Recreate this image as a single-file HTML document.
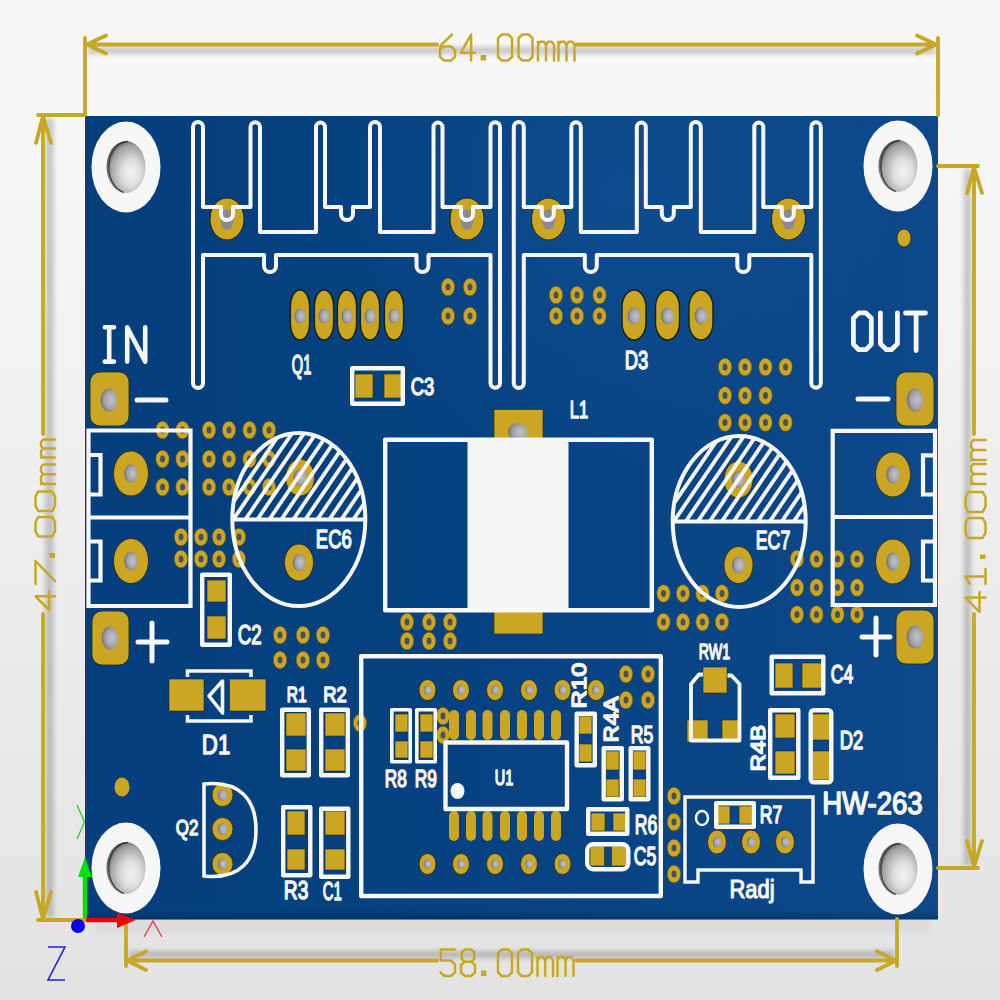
<!DOCTYPE html><html><head><meta charset="utf-8"><style>html,body{margin:0;padding:0;background:#f0f0f0;}svg{display:block}</style></head><body>
<svg width="1000" height="1000" viewBox="0 0 1000 1000">
<defs>
<linearGradient id="bg" x1="0" y1="0" x2="0" y2="1"><stop offset="0" stop-color="#f8f8f8"/><stop offset="0.12" stop-color="#f7f7f7"/><stop offset="1" stop-color="#e3e3e3"/></linearGradient>
<radialGradient id="hole" cx="0.62" cy="0.5" r="0.62"><stop offset="0" stop-color="#c4c4c8"/><stop offset="0.6" stop-color="#a4a4a8"/><stop offset="1" stop-color="#6e6e74"/></radialGradient>
<radialGradient id="mhole" cx="0.62" cy="0.6" r="0.7" fx="0.64" fy="0.62"><stop offset="0" stop-color="#f4f4f4"/><stop offset="0.35" stop-color="#dedede"/><stop offset="0.75" stop-color="#a0a0a0"/><stop offset="1" stop-color="#3a3a3a"/></radialGradient>
<linearGradient id="boardg" x1="0" y1="0" x2="1" y2="0"><stop offset="0" stop-color="#043e7c"/><stop offset="0.45" stop-color="#064281"/><stop offset="1" stop-color="#0d498a"/></linearGradient>
<radialGradient id="boardhl" gradientUnits="userSpaceOnUse" cx="620" cy="190" r="280"><stop offset="0" stop-color="#0f4d90" stop-opacity="0.9"/><stop offset="0.5" stop-color="#0f4d90" stop-opacity="0.45"/><stop offset="1" stop-color="#0f4d90" stop-opacity="0"/></radialGradient>
<linearGradient id="edgeb" x1="0" y1="0" x2="0" y2="1"><stop offset="0" stop-color="#000" stop-opacity="0"/><stop offset="1" stop-color="#000" stop-opacity="0.22"/></linearGradient>
<filter id="blur4" x="-20%" y="-20%" width="140%" height="140%"><feGaussianBlur stdDeviation="6"/></filter>
<filter id="blur2" x="-20%" y="-20%" width="140%" height="140%"><feGaussianBlur stdDeviation="2.8"/></filter>
<pattern id="hatch" patternUnits="userSpaceOnUse" width="15" height="19" patternTransform="rotate(0)">
</pattern>
</defs>
<rect x="0" y="0" width="1000" height="1000" fill="url(#bg)"/>
<rect x="95" y="905" width="835" height="28" fill="#000" opacity="0.035" filter="url(#blur2)"/>
<rect x="85" y="116" width="853" height="803.5" fill="url(#boardg)"/><rect x="85" y="116" width="853" height="803.5" fill="url(#boardhl)"/><rect x="85" y="910" width="853" height="9.5" fill="url(#edgeb)"/>
<ellipse cx="126" cy="167" rx="34.5" ry="45.5" fill="#f7f7f7"/>
<ellipse cx="126" cy="167" rx="19.5" ry="26" fill="url(#mhole)"/>
<path d="M 128 141.5 A 19.3 25.8 0 0 0 124 192.5" fill="none" stroke="#2e2e2e" stroke-width="1.3" opacity="0.85"/>
<ellipse cx="898" cy="166" rx="34.5" ry="45.5" fill="#f7f7f7"/>
<ellipse cx="898" cy="166" rx="19.5" ry="26" fill="url(#mhole)"/>
<path d="M 900 140.5 A 19.3 25.8 0 0 0 896 191.5" fill="none" stroke="#2e2e2e" stroke-width="1.3" opacity="0.85"/>
<ellipse cx="126" cy="868" rx="34.5" ry="45.5" fill="#f7f7f7"/>
<ellipse cx="126" cy="868" rx="19.5" ry="26" fill="url(#mhole)"/>
<path d="M 128 842.5 A 19.3 25.8 0 0 0 124 893.5" fill="none" stroke="#2e2e2e" stroke-width="1.3" opacity="0.85"/>
<ellipse cx="898" cy="869" rx="34.5" ry="45.5" fill="#f7f7f7"/>
<ellipse cx="898" cy="869" rx="19.5" ry="26" fill="url(#mhole)"/>
<path d="M 900 843.5 A 19.3 25.8 0 0 0 896 894.5" fill="none" stroke="#2e2e2e" stroke-width="1.3" opacity="0.85"/>
<ellipse cx="904" cy="238" rx="7" ry="9" fill="#caa622" stroke="#2a2a10" stroke-width="0.8"/>
<ellipse cx="122" cy="787" rx="7.5" ry="9.5" fill="#caa622"/>
<ellipse cx="162.5" cy="430" rx="6.7" ry="8.8" fill="#caa622" stroke="#6b5a14" stroke-width="0.6"/>
<ellipse cx="162.5" cy="430" rx="2.5" ry="3.5" fill="#4a4f5e"/>
<ellipse cx="182.5" cy="430" rx="6.7" ry="8.8" fill="#caa622" stroke="#6b5a14" stroke-width="0.6"/>
<ellipse cx="182.5" cy="430" rx="2.5" ry="3.5" fill="#4a4f5e"/>
<ellipse cx="209" cy="430" rx="6.7" ry="8.8" fill="#caa622" stroke="#6b5a14" stroke-width="0.6"/>
<ellipse cx="209" cy="430" rx="2.5" ry="3.5" fill="#4a4f5e"/>
<ellipse cx="229" cy="430" rx="6.7" ry="8.8" fill="#caa622" stroke="#6b5a14" stroke-width="0.6"/>
<ellipse cx="229" cy="430" rx="2.5" ry="3.5" fill="#4a4f5e"/>
<ellipse cx="249.5" cy="430" rx="6.7" ry="8.8" fill="#caa622" stroke="#6b5a14" stroke-width="0.6"/>
<ellipse cx="249.5" cy="430" rx="2.5" ry="3.5" fill="#4a4f5e"/>
<ellipse cx="269" cy="430" rx="6.7" ry="8.8" fill="#caa622" stroke="#6b5a14" stroke-width="0.6"/>
<ellipse cx="269" cy="430" rx="2.5" ry="3.5" fill="#4a4f5e"/>
<ellipse cx="162.5" cy="459" rx="6.7" ry="8.8" fill="#caa622" stroke="#6b5a14" stroke-width="0.6"/>
<ellipse cx="162.5" cy="459" rx="2.5" ry="3.5" fill="#4a4f5e"/>
<ellipse cx="182.5" cy="459" rx="6.7" ry="8.8" fill="#caa622" stroke="#6b5a14" stroke-width="0.6"/>
<ellipse cx="182.5" cy="459" rx="2.5" ry="3.5" fill="#4a4f5e"/>
<ellipse cx="209" cy="459" rx="6.7" ry="8.8" fill="#caa622" stroke="#6b5a14" stroke-width="0.6"/>
<ellipse cx="209" cy="459" rx="2.5" ry="3.5" fill="#4a4f5e"/>
<ellipse cx="229" cy="459" rx="6.7" ry="8.8" fill="#caa622" stroke="#6b5a14" stroke-width="0.6"/>
<ellipse cx="229" cy="459" rx="2.5" ry="3.5" fill="#4a4f5e"/>
<ellipse cx="249.5" cy="459" rx="6.7" ry="8.8" fill="#caa622" stroke="#6b5a14" stroke-width="0.6"/>
<ellipse cx="249.5" cy="459" rx="2.5" ry="3.5" fill="#4a4f5e"/>
<ellipse cx="269" cy="459" rx="6.7" ry="8.8" fill="#caa622" stroke="#6b5a14" stroke-width="0.6"/>
<ellipse cx="269" cy="459" rx="2.5" ry="3.5" fill="#4a4f5e"/>
<ellipse cx="162.5" cy="487" rx="6.7" ry="8.8" fill="#caa622" stroke="#6b5a14" stroke-width="0.6"/>
<ellipse cx="162.5" cy="487" rx="2.5" ry="3.5" fill="#4a4f5e"/>
<ellipse cx="182.5" cy="487" rx="6.7" ry="8.8" fill="#caa622" stroke="#6b5a14" stroke-width="0.6"/>
<ellipse cx="182.5" cy="487" rx="2.5" ry="3.5" fill="#4a4f5e"/>
<ellipse cx="209" cy="487" rx="6.7" ry="8.8" fill="#caa622" stroke="#6b5a14" stroke-width="0.6"/>
<ellipse cx="209" cy="487" rx="2.5" ry="3.5" fill="#4a4f5e"/>
<ellipse cx="229" cy="487" rx="6.7" ry="8.8" fill="#caa622" stroke="#6b5a14" stroke-width="0.6"/>
<ellipse cx="229" cy="487" rx="2.5" ry="3.5" fill="#4a4f5e"/>
<ellipse cx="249.5" cy="487" rx="6.7" ry="8.8" fill="#caa622" stroke="#6b5a14" stroke-width="0.6"/>
<ellipse cx="249.5" cy="487" rx="2.5" ry="3.5" fill="#4a4f5e"/>
<ellipse cx="269" cy="487" rx="6.7" ry="8.8" fill="#caa622" stroke="#6b5a14" stroke-width="0.6"/>
<ellipse cx="269" cy="487" rx="2.5" ry="3.5" fill="#4a4f5e"/>
<ellipse cx="181" cy="537" rx="6.7" ry="8.8" fill="#caa622" stroke="#6b5a14" stroke-width="0.6"/>
<ellipse cx="181" cy="537" rx="2.5" ry="3.5" fill="#4a4f5e"/>
<ellipse cx="201" cy="537" rx="6.7" ry="8.8" fill="#caa622" stroke="#6b5a14" stroke-width="0.6"/>
<ellipse cx="201" cy="537" rx="2.5" ry="3.5" fill="#4a4f5e"/>
<ellipse cx="219" cy="537" rx="6.7" ry="8.8" fill="#caa622" stroke="#6b5a14" stroke-width="0.6"/>
<ellipse cx="219" cy="537" rx="2.5" ry="3.5" fill="#4a4f5e"/>
<ellipse cx="239" cy="537" rx="6.7" ry="8.8" fill="#caa622" stroke="#6b5a14" stroke-width="0.6"/>
<ellipse cx="239" cy="537" rx="2.5" ry="3.5" fill="#4a4f5e"/>
<ellipse cx="181" cy="559" rx="6.7" ry="8.8" fill="#caa622" stroke="#6b5a14" stroke-width="0.6"/>
<ellipse cx="181" cy="559" rx="2.5" ry="3.5" fill="#4a4f5e"/>
<ellipse cx="201" cy="559" rx="6.7" ry="8.8" fill="#caa622" stroke="#6b5a14" stroke-width="0.6"/>
<ellipse cx="201" cy="559" rx="2.5" ry="3.5" fill="#4a4f5e"/>
<ellipse cx="219" cy="559" rx="6.7" ry="8.8" fill="#caa622" stroke="#6b5a14" stroke-width="0.6"/>
<ellipse cx="219" cy="559" rx="2.5" ry="3.5" fill="#4a4f5e"/>
<ellipse cx="239" cy="559" rx="6.7" ry="8.8" fill="#caa622" stroke="#6b5a14" stroke-width="0.6"/>
<ellipse cx="239" cy="559" rx="2.5" ry="3.5" fill="#4a4f5e"/>
<ellipse cx="280" cy="635" rx="6.7" ry="8.8" fill="#caa622" stroke="#6b5a14" stroke-width="0.6"/>
<ellipse cx="280" cy="635" rx="2.5" ry="3.5" fill="#4a4f5e"/>
<ellipse cx="303" cy="635" rx="6.7" ry="8.8" fill="#caa622" stroke="#6b5a14" stroke-width="0.6"/>
<ellipse cx="303" cy="635" rx="2.5" ry="3.5" fill="#4a4f5e"/>
<ellipse cx="323" cy="635" rx="6.7" ry="8.8" fill="#caa622" stroke="#6b5a14" stroke-width="0.6"/>
<ellipse cx="323" cy="635" rx="2.5" ry="3.5" fill="#4a4f5e"/>
<ellipse cx="280" cy="660" rx="6.7" ry="8.8" fill="#caa622" stroke="#6b5a14" stroke-width="0.6"/>
<ellipse cx="280" cy="660" rx="2.5" ry="3.5" fill="#4a4f5e"/>
<ellipse cx="303" cy="660" rx="6.7" ry="8.8" fill="#caa622" stroke="#6b5a14" stroke-width="0.6"/>
<ellipse cx="303" cy="660" rx="2.5" ry="3.5" fill="#4a4f5e"/>
<ellipse cx="323" cy="660" rx="6.7" ry="8.8" fill="#caa622" stroke="#6b5a14" stroke-width="0.6"/>
<ellipse cx="323" cy="660" rx="2.5" ry="3.5" fill="#4a4f5e"/>
<ellipse cx="448" cy="287" rx="6.7" ry="8.8" fill="#caa622" stroke="#6b5a14" stroke-width="0.6"/>
<ellipse cx="448" cy="287" rx="2.5" ry="3.5" fill="#4a4f5e"/>
<ellipse cx="470" cy="287" rx="6.7" ry="8.8" fill="#caa622" stroke="#6b5a14" stroke-width="0.6"/>
<ellipse cx="470" cy="287" rx="2.5" ry="3.5" fill="#4a4f5e"/>
<ellipse cx="448" cy="316" rx="6.7" ry="8.8" fill="#caa622" stroke="#6b5a14" stroke-width="0.6"/>
<ellipse cx="448" cy="316" rx="2.5" ry="3.5" fill="#4a4f5e"/>
<ellipse cx="470" cy="316" rx="6.7" ry="8.8" fill="#caa622" stroke="#6b5a14" stroke-width="0.6"/>
<ellipse cx="470" cy="316" rx="2.5" ry="3.5" fill="#4a4f5e"/>
<ellipse cx="556" cy="295" rx="6.7" ry="8.8" fill="#caa622" stroke="#6b5a14" stroke-width="0.6"/>
<ellipse cx="556" cy="295" rx="2.5" ry="3.5" fill="#4a4f5e"/>
<ellipse cx="577" cy="295" rx="6.7" ry="8.8" fill="#caa622" stroke="#6b5a14" stroke-width="0.6"/>
<ellipse cx="577" cy="295" rx="2.5" ry="3.5" fill="#4a4f5e"/>
<ellipse cx="599.5" cy="295" rx="6.7" ry="8.8" fill="#caa622" stroke="#6b5a14" stroke-width="0.6"/>
<ellipse cx="599.5" cy="295" rx="2.5" ry="3.5" fill="#4a4f5e"/>
<ellipse cx="556" cy="316" rx="6.7" ry="8.8" fill="#caa622" stroke="#6b5a14" stroke-width="0.6"/>
<ellipse cx="556" cy="316" rx="2.5" ry="3.5" fill="#4a4f5e"/>
<ellipse cx="577" cy="316" rx="6.7" ry="8.8" fill="#caa622" stroke="#6b5a14" stroke-width="0.6"/>
<ellipse cx="577" cy="316" rx="2.5" ry="3.5" fill="#4a4f5e"/>
<ellipse cx="599.5" cy="316" rx="6.7" ry="8.8" fill="#caa622" stroke="#6b5a14" stroke-width="0.6"/>
<ellipse cx="599.5" cy="316" rx="2.5" ry="3.5" fill="#4a4f5e"/>
<ellipse cx="407" cy="622" rx="6.7" ry="8.8" fill="#caa622" stroke="#6b5a14" stroke-width="0.6"/>
<ellipse cx="407" cy="622" rx="2.5" ry="3.5" fill="#4a4f5e"/>
<ellipse cx="429" cy="622" rx="6.7" ry="8.8" fill="#caa622" stroke="#6b5a14" stroke-width="0.6"/>
<ellipse cx="429" cy="622" rx="2.5" ry="3.5" fill="#4a4f5e"/>
<ellipse cx="450" cy="622" rx="6.7" ry="8.8" fill="#caa622" stroke="#6b5a14" stroke-width="0.6"/>
<ellipse cx="450" cy="622" rx="2.5" ry="3.5" fill="#4a4f5e"/>
<ellipse cx="407" cy="641" rx="6.7" ry="8.8" fill="#caa622" stroke="#6b5a14" stroke-width="0.6"/>
<ellipse cx="407" cy="641" rx="2.5" ry="3.5" fill="#4a4f5e"/>
<ellipse cx="429" cy="641" rx="6.7" ry="8.8" fill="#caa622" stroke="#6b5a14" stroke-width="0.6"/>
<ellipse cx="429" cy="641" rx="2.5" ry="3.5" fill="#4a4f5e"/>
<ellipse cx="450" cy="641" rx="6.7" ry="8.8" fill="#caa622" stroke="#6b5a14" stroke-width="0.6"/>
<ellipse cx="450" cy="641" rx="2.5" ry="3.5" fill="#4a4f5e"/>
<ellipse cx="725" cy="367" rx="6.7" ry="8.8" fill="#caa622" stroke="#6b5a14" stroke-width="0.6"/>
<ellipse cx="725" cy="367" rx="2.5" ry="3.5" fill="#4a4f5e"/>
<ellipse cx="725" cy="422.5" rx="6.7" ry="8.8" fill="#caa622" stroke="#6b5a14" stroke-width="0.6"/>
<ellipse cx="725" cy="422.5" rx="2.5" ry="3.5" fill="#4a4f5e"/>
<ellipse cx="745" cy="367" rx="6.7" ry="8.8" fill="#caa622" stroke="#6b5a14" stroke-width="0.6"/>
<ellipse cx="745" cy="367" rx="2.5" ry="3.5" fill="#4a4f5e"/>
<ellipse cx="745" cy="422.5" rx="6.7" ry="8.8" fill="#caa622" stroke="#6b5a14" stroke-width="0.6"/>
<ellipse cx="745" cy="422.5" rx="2.5" ry="3.5" fill="#4a4f5e"/>
<ellipse cx="765.5" cy="367" rx="6.7" ry="8.8" fill="#caa622" stroke="#6b5a14" stroke-width="0.6"/>
<ellipse cx="765.5" cy="367" rx="2.5" ry="3.5" fill="#4a4f5e"/>
<ellipse cx="765.5" cy="422.5" rx="6.7" ry="8.8" fill="#caa622" stroke="#6b5a14" stroke-width="0.6"/>
<ellipse cx="765.5" cy="422.5" rx="2.5" ry="3.5" fill="#4a4f5e"/>
<ellipse cx="785.6" cy="367" rx="6.7" ry="8.8" fill="#caa622" stroke="#6b5a14" stroke-width="0.6"/>
<ellipse cx="785.6" cy="367" rx="2.5" ry="3.5" fill="#4a4f5e"/>
<ellipse cx="785.6" cy="422.5" rx="6.7" ry="8.8" fill="#caa622" stroke="#6b5a14" stroke-width="0.6"/>
<ellipse cx="785.6" cy="422.5" rx="2.5" ry="3.5" fill="#4a4f5e"/>
<ellipse cx="725" cy="395.5" rx="6.7" ry="8.8" fill="#caa622" stroke="#6b5a14" stroke-width="0.6"/>
<ellipse cx="725" cy="395.5" rx="2.5" ry="3.5" fill="#4a4f5e"/>
<ellipse cx="745" cy="395.5" rx="6.7" ry="8.8" fill="#caa622" stroke="#6b5a14" stroke-width="0.6"/>
<ellipse cx="745" cy="395.5" rx="2.5" ry="3.5" fill="#4a4f5e"/>
<ellipse cx="765.5" cy="395.5" rx="6.7" ry="8.8" fill="#caa622" stroke="#6b5a14" stroke-width="0.6"/>
<ellipse cx="765.5" cy="395.5" rx="2.5" ry="3.5" fill="#4a4f5e"/>
<ellipse cx="663.5" cy="593.5" rx="6.7" ry="8.8" fill="#caa622" stroke="#6b5a14" stroke-width="0.6"/>
<ellipse cx="663.5" cy="593.5" rx="2.5" ry="3.5" fill="#4a4f5e"/>
<ellipse cx="683" cy="593.5" rx="6.7" ry="8.8" fill="#caa622" stroke="#6b5a14" stroke-width="0.6"/>
<ellipse cx="683" cy="593.5" rx="2.5" ry="3.5" fill="#4a4f5e"/>
<ellipse cx="702.5" cy="593.5" rx="6.7" ry="8.8" fill="#caa622" stroke="#6b5a14" stroke-width="0.6"/>
<ellipse cx="702.5" cy="593.5" rx="2.5" ry="3.5" fill="#4a4f5e"/>
<ellipse cx="722" cy="593.5" rx="6.7" ry="8.8" fill="#caa622" stroke="#6b5a14" stroke-width="0.6"/>
<ellipse cx="722" cy="593.5" rx="2.5" ry="3.5" fill="#4a4f5e"/>
<ellipse cx="663.5" cy="622" rx="6.7" ry="8.8" fill="#caa622" stroke="#6b5a14" stroke-width="0.6"/>
<ellipse cx="663.5" cy="622" rx="2.5" ry="3.5" fill="#4a4f5e"/>
<ellipse cx="683" cy="622" rx="6.7" ry="8.8" fill="#caa622" stroke="#6b5a14" stroke-width="0.6"/>
<ellipse cx="683" cy="622" rx="2.5" ry="3.5" fill="#4a4f5e"/>
<ellipse cx="702.5" cy="622" rx="6.7" ry="8.8" fill="#caa622" stroke="#6b5a14" stroke-width="0.6"/>
<ellipse cx="702.5" cy="622" rx="2.5" ry="3.5" fill="#4a4f5e"/>
<ellipse cx="722" cy="622" rx="6.7" ry="8.8" fill="#caa622" stroke="#6b5a14" stroke-width="0.6"/>
<ellipse cx="722" cy="622" rx="2.5" ry="3.5" fill="#4a4f5e"/>
<ellipse cx="797" cy="559" rx="6.7" ry="8.8" fill="#caa622" stroke="#6b5a14" stroke-width="0.6"/>
<ellipse cx="797" cy="559" rx="2.5" ry="3.5" fill="#4a4f5e"/>
<ellipse cx="816.5" cy="559" rx="6.7" ry="8.8" fill="#caa622" stroke="#6b5a14" stroke-width="0.6"/>
<ellipse cx="816.5" cy="559" rx="2.5" ry="3.5" fill="#4a4f5e"/>
<ellipse cx="837.5" cy="559" rx="6.7" ry="8.8" fill="#caa622" stroke="#6b5a14" stroke-width="0.6"/>
<ellipse cx="837.5" cy="559" rx="2.5" ry="3.5" fill="#4a4f5e"/>
<ellipse cx="857" cy="559" rx="6.7" ry="8.8" fill="#caa622" stroke="#6b5a14" stroke-width="0.6"/>
<ellipse cx="857" cy="559" rx="2.5" ry="3.5" fill="#4a4f5e"/>
<ellipse cx="797" cy="587.5" rx="6.7" ry="8.8" fill="#caa622" stroke="#6b5a14" stroke-width="0.6"/>
<ellipse cx="797" cy="587.5" rx="2.5" ry="3.5" fill="#4a4f5e"/>
<ellipse cx="816.5" cy="587.5" rx="6.7" ry="8.8" fill="#caa622" stroke="#6b5a14" stroke-width="0.6"/>
<ellipse cx="816.5" cy="587.5" rx="2.5" ry="3.5" fill="#4a4f5e"/>
<ellipse cx="837.5" cy="587.5" rx="6.7" ry="8.8" fill="#caa622" stroke="#6b5a14" stroke-width="0.6"/>
<ellipse cx="837.5" cy="587.5" rx="2.5" ry="3.5" fill="#4a4f5e"/>
<ellipse cx="857" cy="587.5" rx="6.7" ry="8.8" fill="#caa622" stroke="#6b5a14" stroke-width="0.6"/>
<ellipse cx="857" cy="587.5" rx="2.5" ry="3.5" fill="#4a4f5e"/>
<ellipse cx="797" cy="614.5" rx="6.7" ry="8.8" fill="#caa622" stroke="#6b5a14" stroke-width="0.6"/>
<ellipse cx="797" cy="614.5" rx="2.5" ry="3.5" fill="#4a4f5e"/>
<ellipse cx="816.5" cy="614.5" rx="6.7" ry="8.8" fill="#caa622" stroke="#6b5a14" stroke-width="0.6"/>
<ellipse cx="816.5" cy="614.5" rx="2.5" ry="3.5" fill="#4a4f5e"/>
<ellipse cx="837.5" cy="614.5" rx="6.7" ry="8.8" fill="#caa622" stroke="#6b5a14" stroke-width="0.6"/>
<ellipse cx="837.5" cy="614.5" rx="2.5" ry="3.5" fill="#4a4f5e"/>
<ellipse cx="857" cy="614.5" rx="6.7" ry="8.8" fill="#caa622" stroke="#6b5a14" stroke-width="0.6"/>
<ellipse cx="857" cy="614.5" rx="2.5" ry="3.5" fill="#4a4f5e"/>
<ellipse cx="626" cy="674" rx="6.7" ry="8.8" fill="#caa622" stroke="#6b5a14" stroke-width="0.6"/>
<ellipse cx="626" cy="674" rx="2.5" ry="3.5" fill="#4a4f5e"/>
<ellipse cx="648" cy="674" rx="6.7" ry="8.8" fill="#caa622" stroke="#6b5a14" stroke-width="0.6"/>
<ellipse cx="648" cy="674" rx="2.5" ry="3.5" fill="#4a4f5e"/>
<ellipse cx="626" cy="700" rx="6.7" ry="8.8" fill="#caa622" stroke="#6b5a14" stroke-width="0.6"/>
<ellipse cx="626" cy="700" rx="2.5" ry="3.5" fill="#4a4f5e"/>
<ellipse cx="648" cy="700" rx="6.7" ry="8.8" fill="#caa622" stroke="#6b5a14" stroke-width="0.6"/>
<ellipse cx="648" cy="700" rx="2.5" ry="3.5" fill="#4a4f5e"/>
<ellipse cx="674" cy="796" rx="6.7" ry="8.8" fill="#caa622" stroke="#6b5a14" stroke-width="0.6"/>
<ellipse cx="674" cy="796" rx="2.5" ry="3.5" fill="#4a4f5e"/>
<ellipse cx="674" cy="822" rx="6.7" ry="8.8" fill="#caa622" stroke="#6b5a14" stroke-width="0.6"/>
<ellipse cx="674" cy="822" rx="2.5" ry="3.5" fill="#4a4f5e"/>
<ellipse cx="674" cy="848" rx="6.7" ry="8.8" fill="#caa622" stroke="#6b5a14" stroke-width="0.6"/>
<ellipse cx="674" cy="848" rx="2.5" ry="3.5" fill="#4a4f5e"/>
<ellipse cx="674" cy="874" rx="6.7" ry="8.8" fill="#caa622" stroke="#6b5a14" stroke-width="0.6"/>
<ellipse cx="674" cy="874" rx="2.5" ry="3.5" fill="#4a4f5e"/>
<ellipse cx="360" cy="723" rx="6.7" ry="8.8" fill="#caa622" stroke="#6b5a14" stroke-width="0.6"/>
<ellipse cx="360" cy="723" rx="2.5" ry="3.5" fill="#4a4f5e"/>
<ellipse cx="443" cy="716" rx="6.7" ry="8.8" fill="#caa622" stroke="#6b5a14" stroke-width="0.6"/>
<ellipse cx="443" cy="716" rx="2.5" ry="3.5" fill="#4a4f5e"/>
<ellipse cx="443" cy="735" rx="6.7" ry="8.8" fill="#caa622" stroke="#6b5a14" stroke-width="0.6"/>
<ellipse cx="443" cy="735" rx="2.5" ry="3.5" fill="#4a4f5e"/>
<ellipse cx="227" cy="219" rx="17" ry="21" fill="#caa622" stroke="#1e2a20" stroke-width="1"/>
<ellipse cx="227" cy="219.5" rx="6.5" ry="10.5" fill="#8a8a90"/>
<ellipse cx="467" cy="219" rx="17" ry="21" fill="#caa622" stroke="#1e2a20" stroke-width="1"/>
<ellipse cx="467" cy="219.5" rx="6.5" ry="10.5" fill="#8a8a90"/>
<ellipse cx="548.5" cy="219" rx="17" ry="21" fill="#caa622" stroke="#1e2a20" stroke-width="1"/>
<ellipse cx="548.5" cy="219.5" rx="6.5" ry="10.5" fill="#8a8a90"/>
<ellipse cx="788.5" cy="219" rx="17" ry="21" fill="#caa622" stroke="#1e2a20" stroke-width="1"/>
<ellipse cx="788.5" cy="219.5" rx="6.5" ry="10.5" fill="#8a8a90"/>
<rect x="290.4" y="290" width="19.2" height="50" rx="9.6" ry="16" fill="#caa622" stroke="#18201a" stroke-width="1.4"/>
<ellipse cx="300" cy="316" rx="5.5" ry="7.5" fill="url(#hole)"/>
<rect x="314.4" y="290" width="19.2" height="50" rx="9.6" ry="16" fill="#caa622" stroke="#18201a" stroke-width="1.4"/>
<ellipse cx="324" cy="316" rx="5.5" ry="7.5" fill="url(#hole)"/>
<rect x="337.4" y="290" width="19.2" height="50" rx="9.6" ry="16" fill="#caa622" stroke="#18201a" stroke-width="1.4"/>
<ellipse cx="347" cy="316" rx="5.5" ry="7.5" fill="url(#hole)"/>
<rect x="360.4" y="290" width="19.2" height="50" rx="9.6" ry="16" fill="#caa622" stroke="#18201a" stroke-width="1.4"/>
<ellipse cx="370" cy="316" rx="5.5" ry="7.5" fill="url(#hole)"/>
<rect x="384.4" y="290" width="19.2" height="50" rx="9.6" ry="16" fill="#caa622" stroke="#18201a" stroke-width="1.4"/>
<ellipse cx="394" cy="316" rx="5.5" ry="7.5" fill="url(#hole)"/>
<rect x="622" y="290" width="24" height="50" rx="12" ry="17" fill="#caa622" stroke="#18201a" stroke-width="1.4"/>
<ellipse cx="634" cy="316" rx="6.5" ry="8.5" fill="url(#hole)"/>
<rect x="655.5" y="290" width="24" height="50" rx="12" ry="17" fill="#caa622" stroke="#18201a" stroke-width="1.4"/>
<ellipse cx="667.5" cy="316" rx="6.5" ry="8.5" fill="url(#hole)"/>
<rect x="689" y="290" width="24" height="50" rx="12" ry="17" fill="#caa622" stroke="#18201a" stroke-width="1.4"/>
<ellipse cx="701" cy="316" rx="6.5" ry="8.5" fill="url(#hole)"/>
<rect x="90" y="372" width="39.0" height="54.0" rx="10" fill="#caa622" stroke="#1e2a20" stroke-width="0.8"/>
<ellipse cx="109" cy="400" rx="8.5" ry="11.5" fill="url(#hole)"/>
<rect x="92" y="611" width="37.0" height="54.0" rx="10" fill="#caa622" stroke="#1e2a20" stroke-width="0.8"/>
<ellipse cx="110" cy="638" rx="8.5" ry="11.5" fill="url(#hole)"/>
<rect x="896" y="372" width="38.0" height="54.0" rx="10" fill="#caa622" stroke="#1e2a20" stroke-width="0.8"/>
<ellipse cx="915" cy="400" rx="8.5" ry="11.5" fill="url(#hole)"/>
<rect x="896" y="610" width="38.0" height="54.0" rx="10" fill="#caa622" stroke="#1e2a20" stroke-width="0.8"/>
<ellipse cx="915" cy="637" rx="8.5" ry="11.5" fill="url(#hole)"/>
<ellipse cx="131" cy="473.5" rx="17.5" ry="22.5" fill="#caa622" stroke="#2a2a10" stroke-width="0.8"/>
<ellipse cx="131" cy="473.5" rx="6.8" ry="9.2" fill="url(#hole)"/>
<ellipse cx="131" cy="561" rx="17.5" ry="22.5" fill="#caa622" stroke="#2a2a10" stroke-width="0.8"/>
<ellipse cx="131" cy="561" rx="6.8" ry="9.2" fill="url(#hole)"/>
<ellipse cx="893" cy="474.5" rx="17.5" ry="22.5" fill="#caa622" stroke="#2a2a10" stroke-width="0.8"/>
<ellipse cx="893" cy="474.5" rx="6.8" ry="9.2" fill="url(#hole)"/>
<ellipse cx="893" cy="561.5" rx="17.5" ry="22.5" fill="#caa622" stroke="#2a2a10" stroke-width="0.8"/>
<ellipse cx="893" cy="561.5" rx="6.8" ry="9.2" fill="url(#hole)"/>
<ellipse cx="300" cy="477.5" rx="14.5" ry="18.5" fill="#caa622" stroke="#2a2a10" stroke-width="0.8"/>
<ellipse cx="300" cy="477.5" rx="6.5" ry="8.5" fill="url(#hole)"/>
<ellipse cx="299" cy="562.5" rx="14.5" ry="18.5" fill="#caa622" stroke="#2a2a10" stroke-width="0.8"/>
<ellipse cx="299" cy="562.5" rx="6.5" ry="8.5" fill="url(#hole)"/>
<ellipse cx="738.5" cy="479.5" rx="14.5" ry="18.5" fill="#caa622" stroke="#2a2a10" stroke-width="0.8"/>
<ellipse cx="738.5" cy="479.5" rx="6.5" ry="8.5" fill="url(#hole)"/>
<ellipse cx="738.5" cy="565" rx="14.5" ry="18.5" fill="#caa622" stroke="#2a2a10" stroke-width="0.8"/>
<ellipse cx="738.5" cy="565" rx="6.5" ry="8.5" fill="url(#hole)"/>
<ellipse cx="427.5" cy="690" rx="8.5" ry="10.5" fill="#caa622" stroke="#2a2a10" stroke-width="0.8"/>
<ellipse cx="427.5" cy="690" rx="3.8" ry="4.8" fill="url(#hole)"/>
<ellipse cx="461" cy="690" rx="8.5" ry="10.5" fill="#caa622" stroke="#2a2a10" stroke-width="0.8"/>
<ellipse cx="461" cy="690" rx="3.8" ry="4.8" fill="url(#hole)"/>
<ellipse cx="495" cy="690" rx="8.5" ry="10.5" fill="#caa622" stroke="#2a2a10" stroke-width="0.8"/>
<ellipse cx="495" cy="690" rx="3.8" ry="4.8" fill="url(#hole)"/>
<ellipse cx="529" cy="690" rx="8.5" ry="10.5" fill="#caa622" stroke="#2a2a10" stroke-width="0.8"/>
<ellipse cx="529" cy="690" rx="3.8" ry="4.8" fill="url(#hole)"/>
<ellipse cx="562.5" cy="690" rx="8.5" ry="10.5" fill="#caa622" stroke="#2a2a10" stroke-width="0.8"/>
<ellipse cx="562.5" cy="690" rx="3.8" ry="4.8" fill="url(#hole)"/>
<ellipse cx="596" cy="690" rx="8.5" ry="10.5" fill="#caa622" stroke="#2a2a10" stroke-width="0.8"/>
<ellipse cx="596" cy="690" rx="3.8" ry="4.8" fill="url(#hole)"/>
<ellipse cx="427.5" cy="864" rx="8.5" ry="10.5" fill="#caa622" stroke="#2a2a10" stroke-width="0.8"/>
<ellipse cx="427.5" cy="864" rx="3.8" ry="4.8" fill="url(#hole)"/>
<ellipse cx="461" cy="864" rx="8.5" ry="10.5" fill="#caa622" stroke="#2a2a10" stroke-width="0.8"/>
<ellipse cx="461" cy="864" rx="3.8" ry="4.8" fill="url(#hole)"/>
<ellipse cx="495" cy="864" rx="8.5" ry="10.5" fill="#caa622" stroke="#2a2a10" stroke-width="0.8"/>
<ellipse cx="495" cy="864" rx="3.8" ry="4.8" fill="url(#hole)"/>
<ellipse cx="529" cy="864" rx="8.5" ry="10.5" fill="#caa622" stroke="#2a2a10" stroke-width="0.8"/>
<ellipse cx="529" cy="864" rx="3.8" ry="4.8" fill="url(#hole)"/>
<ellipse cx="562.5" cy="864" rx="8.5" ry="10.5" fill="#caa622" stroke="#2a2a10" stroke-width="0.8"/>
<ellipse cx="562.5" cy="864" rx="3.8" ry="4.8" fill="url(#hole)"/>
<ellipse cx="222.5" cy="795" rx="10.5" ry="11.5" fill="#caa622" stroke="#2a2a10" stroke-width="0.8"/>
<ellipse cx="222.5" cy="795" rx="4.8" ry="5.8" fill="url(#hole)"/>
<ellipse cx="222.5" cy="829" rx="10.5" ry="11.5" fill="#caa622" stroke="#2a2a10" stroke-width="0.8"/>
<ellipse cx="222.5" cy="829" rx="4.8" ry="5.8" fill="url(#hole)"/>
<ellipse cx="222.5" cy="864" rx="10.5" ry="11.5" fill="#caa622" stroke="#2a2a10" stroke-width="0.8"/>
<ellipse cx="222.5" cy="864" rx="4.8" ry="5.8" fill="url(#hole)"/>
<ellipse cx="717" cy="842" rx="9.5" ry="12" fill="#caa622" stroke="#2a2a10" stroke-width="0.8"/>
<ellipse cx="717" cy="842" rx="4.2" ry="5.2" fill="url(#hole)"/>
<ellipse cx="751" cy="842" rx="9.5" ry="12" fill="#caa622" stroke="#2a2a10" stroke-width="0.8"/>
<ellipse cx="751" cy="842" rx="4.2" ry="5.2" fill="url(#hole)"/>
<ellipse cx="785" cy="842" rx="9.5" ry="12" fill="#caa622" stroke="#2a2a10" stroke-width="0.8"/>
<ellipse cx="785" cy="842" rx="4.2" ry="5.2" fill="url(#hole)"/>
<rect x="449" y="710" width="10.0" height="30.0" rx="5" fill="#caa622" />
<rect x="449" y="811" width="10.0" height="30.0" rx="5" fill="#caa622" />
<rect x="466" y="710" width="10.0" height="30.0" rx="5" fill="#caa622" />
<rect x="466" y="811" width="10.0" height="30.0" rx="5" fill="#caa622" />
<rect x="482.5" y="710" width="10.0" height="30.0" rx="5" fill="#caa622" />
<rect x="482.5" y="811" width="10.0" height="30.0" rx="5" fill="#caa622" />
<rect x="500" y="710" width="10.0" height="30.0" rx="5" fill="#caa622" />
<rect x="500" y="811" width="10.0" height="30.0" rx="5" fill="#caa622" />
<rect x="517" y="710" width="10.0" height="30.0" rx="5" fill="#caa622" />
<rect x="517" y="811" width="10.0" height="30.0" rx="5" fill="#caa622" />
<rect x="534" y="710" width="10.0" height="30.0" rx="5" fill="#caa622" />
<rect x="534" y="811" width="10.0" height="30.0" rx="5" fill="#caa622" />
<rect x="551" y="710" width="10.0" height="30.0" rx="5" fill="#caa622" />
<rect x="551" y="811" width="10.0" height="30.0" rx="5" fill="#caa622" />
<rect x="355" y="374" width="18.0" height="24.0" rx="0" fill="#caa622" stroke="#1e2a20" stroke-width="0.6"/>
<rect x="384" y="374" width="18.0" height="24.0" rx="0" fill="#caa622" stroke="#1e2a20" stroke-width="0.6"/>
<rect x="207" y="580" width="19.0" height="22.0" rx="0" fill="#caa622" stroke="#1e2a20" stroke-width="0.6"/>
<rect x="207" y="616" width="19.0" height="23.0" rx="0" fill="#caa622" stroke="#1e2a20" stroke-width="0.6"/>
<rect x="169" y="679" width="35.0" height="32.0" rx="0" fill="#caa622" stroke="#1e2a20" stroke-width="0.6"/>
<rect x="229.5" y="679" width="36.5" height="32.0" rx="0" fill="#caa622" stroke="#1e2a20" stroke-width="0.6"/>
<rect x="286" y="713" width="20.0" height="23.0" rx="0" fill="#caa622" stroke="#1e2a20" stroke-width="0.6"/>
<rect x="286" y="749" width="20.0" height="22.0" rx="0" fill="#caa622" stroke="#1e2a20" stroke-width="0.6"/>
<rect x="325" y="713" width="20.0" height="23.0" rx="0" fill="#caa622" stroke="#1e2a20" stroke-width="0.6"/>
<rect x="325" y="749" width="20.0" height="22.0" rx="0" fill="#caa622" stroke="#1e2a20" stroke-width="0.6"/>
<rect x="287" y="811" width="18.0" height="24.0" rx="0" fill="#caa622" stroke="#1e2a20" stroke-width="0.6"/>
<rect x="287" y="849" width="18.0" height="21.0" rx="0" fill="#caa622" stroke="#1e2a20" stroke-width="0.6"/>
<rect x="325" y="811" width="20.0" height="24.0" rx="0" fill="#caa622" stroke="#1e2a20" stroke-width="0.6"/>
<rect x="325" y="849" width="20.0" height="21.0" rx="0" fill="#caa622" stroke="#1e2a20" stroke-width="0.6"/>
<rect x="395" y="714" width="13.0" height="18.0" rx="0" fill="#caa622" stroke="#1e2a20" stroke-width="0.6"/>
<rect x="395" y="741" width="13.0" height="17.0" rx="0" fill="#caa622" stroke="#1e2a20" stroke-width="0.6"/>
<rect x="420" y="714" width="13.0" height="18.0" rx="0" fill="#caa622" stroke="#1e2a20" stroke-width="0.6"/>
<rect x="420" y="741" width="13.0" height="17.0" rx="0" fill="#caa622" stroke="#1e2a20" stroke-width="0.6"/>
<rect x="579" y="716" width="13.0" height="18.0" rx="0" fill="#caa622" stroke="#1e2a20" stroke-width="0.6"/>
<rect x="579" y="744" width="13.0" height="18.0" rx="0" fill="#caa622" stroke="#1e2a20" stroke-width="0.6"/>
<rect x="606" y="751" width="13.0" height="19.0" rx="0" fill="#caa622" stroke="#1e2a20" stroke-width="0.6"/>
<rect x="606" y="779" width="13.0" height="18.0" rx="0" fill="#caa622" stroke="#1e2a20" stroke-width="0.6"/>
<rect x="633" y="751" width="13.0" height="19.0" rx="0" fill="#caa622" stroke="#1e2a20" stroke-width="0.6"/>
<rect x="633" y="779" width="13.0" height="18.0" rx="0" fill="#caa622" stroke="#1e2a20" stroke-width="0.6"/>
<rect x="591" y="813" width="14.0" height="18.0" rx="0" fill="#caa622" stroke="#1e2a20" stroke-width="0.6"/>
<rect x="613" y="813" width="14.0" height="18.0" rx="0" fill="#caa622" stroke="#1e2a20" stroke-width="0.6"/>
<rect x="590" y="846" width="14.5" height="20.0" rx="0" fill="#caa622" stroke="#1e2a20" stroke-width="0.6"/>
<rect x="611.5" y="846" width="16.0" height="20.0" rx="0" fill="#caa622" stroke="#1e2a20" stroke-width="0.6"/>
<rect x="703" y="667" width="24.0" height="26.0" rx="0" fill="#caa622" stroke="#1e2a20" stroke-width="0.6"/>
<rect x="687" y="720" width="21.0" height="22.0" rx="0" fill="#caa622" stroke="#1e2a20" stroke-width="0.6"/>
<rect x="722" y="720" width="19.0" height="22.0" rx="0" fill="#caa622" stroke="#1e2a20" stroke-width="0.6"/>
<rect x="775" y="663" width="18.0" height="25.0" rx="0" fill="#caa622" stroke="#1e2a20" stroke-width="0.6"/>
<rect x="802" y="663" width="20.0" height="25.0" rx="0" fill="#caa622" stroke="#1e2a20" stroke-width="0.6"/>
<rect x="775" y="714" width="20.0" height="24.0" rx="0" fill="#caa622" stroke="#1e2a20" stroke-width="0.6"/>
<rect x="775" y="751" width="20.0" height="23.0" rx="0" fill="#caa622" stroke="#1e2a20" stroke-width="0.6"/>
<rect x="812" y="714" width="19.0" height="26.0" rx="0" fill="#caa622" stroke="#1e2a20" stroke-width="0.6"/>
<rect x="812" y="751" width="19.0" height="29.0" rx="0" fill="#caa622" stroke="#1e2a20" stroke-width="0.6"/>
<rect x="717" y="806" width="13.0" height="18.0" rx="0" fill="#caa622" stroke="#1e2a20" stroke-width="0.6"/>
<rect x="739" y="806" width="13.0" height="18.0" rx="0" fill="#caa622" stroke="#1e2a20" stroke-width="0.6"/>
<rect x="494" y="409.5" width="49.0" height="30.5" rx="0" fill="#caa622" stroke="#1e2a20" stroke-width="0.6"/>
<rect x="494" y="610" width="49.0" height="24.0" rx="0" fill="#caa622" stroke="#1e2a20" stroke-width="0.6"/>
<ellipse cx="518" cy="432" rx="10" ry="9" fill="url(#hole)"/>
<path d="M 203.0 383 L 203.0 255 L 264.0 255 L 264.0 266 A 6 6 0 0 0 276.0 266 L 276.0 255 L 416.5 255 L 416.5 266 A 6 6 0 0 0 428.5 266 L 428.5 255 L 490.5 255 L 490.5 383 A 4.75 4.75 0 0 0 500.0 383 L 500.0 127 A 4.75 4.75 0 0 0 490.5 127 L 490.5 207 L 473.0 207 L 473.0 214 A 6 6 0 0 1 461.0 214 L 461.0 207 L 442.5 207 L 442.5 127 A 4.5 4.5 0 0 0 433.5 127 L 433.5 232 L 380.0 232 L 380.0 127 A 5 5 0 0 0 370.0 127 L 370.0 207 L 353.0 207 L 353.0 214 A 6 6 0 0 1 341.0 214 L 341.0 207 L 325.0 207 L 325.0 127 A 4.5 4.5 0 0 0 316.0 127 L 316.0 232 L 260.0 232 L 260.0 127 A 4.75 4.75 0 0 0 250.5 127 L 250.5 207 L 233.0 207 L 233.0 214 A 6 6 0 0 1 221.0 214 L 221.0 207 L 203.0 207 L 203.0 127 A 5 5 0 0 0 193.0 127 L 193.0 383 A 5 5 0 0 0 203.0 383 Z" fill="none" stroke="#f7f7f7" stroke-width="4" stroke-linejoin="round"/>
<path d="M 523.8 383 L 523.8 255 L 584.8 255 L 584.8 266 A 6 6 0 0 0 596.8 266 L 596.8 255 L 737.3 255 L 737.3 266 A 6 6 0 0 0 749.3 266 L 749.3 255 L 811.3 255 L 811.3 383 A 4.75 4.75 0 0 0 820.8 383 L 820.8 127 A 4.75 4.75 0 0 0 811.3 127 L 811.3 207 L 793.8 207 L 793.8 214 A 6 6 0 0 1 781.8 214 L 781.8 207 L 763.3 207 L 763.3 127 A 4.5 4.5 0 0 0 754.3 127 L 754.3 232 L 700.8 232 L 700.8 127 A 5 5 0 0 0 690.8 127 L 690.8 207 L 673.8 207 L 673.8 214 A 6 6 0 0 1 661.8 214 L 661.8 207 L 645.8 207 L 645.8 127 A 4.5 4.5 0 0 0 636.8 127 L 636.8 232 L 580.8 232 L 580.8 127 A 4.75 4.75 0 0 0 571.3 127 L 571.3 207 L 553.8 207 L 553.8 214 A 6 6 0 0 1 541.8 214 L 541.8 207 L 523.8 207 L 523.8 127 A 5 5 0 0 0 513.8 127 L 513.8 383 A 5 5 0 0 0 523.8 383 Z" fill="none" stroke="#f7f7f7" stroke-width="4" stroke-linejoin="round"/>
<rect x="352.2" y="368.2" width="50.6" height="35.6" rx="0" fill="none" stroke="#f7f7f7" stroke-width="4.4" stroke-linejoin="round"/>
<path d="M 88.5 430.5 L 190.5 430.5 L 190.5 606 L 88.5 606 Z M 88.5 517.5 L 190.5 517.5 M 88.5 455 L 100.5 455 L 100.5 494.5 L 88.5 494.5 M 88.5 541.5 L 100.5 541.5 L 100.5 580.5 L 88.5 580.5" fill="none" stroke="#f7f7f7" stroke-width="4.2"/>
<path d="M 935 430.8 L 832.7 430.8 L 832.7 605 L 935 605 Z M 935 517 L 832.7 517 M 935 455.3 L 923 455.3 L 923 494.5 L 935 494.5 M 935 541.5 L 923 541.5 L 923 580.5 L 935 580.5" fill="none" stroke="#f7f7f7" stroke-width="4.2"/>
<path d="M 137 400 L 166 400 M 858 399 L 888 399 M 138 642 L 167 642 M 152 623 L 152 661 M 862 637 L 890 637 M 876 618 L 876 655" stroke="#f7f7f7" stroke-width="5" stroke-linecap="round"/>
<clipPath id="ech0"><path d="M 232.3 519.5 A 66.5 86.5 0 0 1 365.3 519.5 Z"/></clipPath>
<path d="M 209.3 519.5 L 333.3 337.5 M 221.3 519.5 L 345.3 337.5 M 233.3 519.5 L 357.3 337.5 M 245.3 519.5 L 369.3 337.5 M 257.3 519.5 L 381.3 337.5 M 269.3 519.5 L 393.3 337.5 M 281.3 519.5 L 405.3 337.5 M 293.3 519.5 L 417.3 337.5 M 305.3 519.5 L 429.3 337.5 M 317.3 519.5 L 441.3 337.5 M 329.3 519.5 L 453.3 337.5 M 341.3 519.5 L 465.3 337.5 M 353.3 519.5 L 477.3 337.5 M 365.3 519.5 L 489.3 337.5 M 377.3 519.5 L 501.3 337.5 M 389.3 519.5 L 513.3 337.5 M 401.3 519.5 L 525.3 337.5 M 413.3 519.5 L 537.3 337.5 M 425.3 519.5 L 549.3 337.5 M 437.3 519.5 L 561.3 337.5 M 449.3 519.5 L 573.3 337.5 M 461.3 519.5 L 585.3 337.5" stroke="#f7f7f7" stroke-width="3.8" clip-path="url(#ech0)"/>
<ellipse cx="298.8" cy="519.5" rx="66.5" ry="86.5" fill="none" stroke="#f7f7f7" stroke-width="4"/>
<line x1="232.3" y1="519.5" x2="365.3" y2="519.5" stroke="#f7f7f7" stroke-width="4"/>
<clipPath id="ech1"><path d="M 672.7 521.5 A 66.5 85.5 0 0 1 805.7 521.5 Z"/></clipPath>
<path d="M 649.7 521.5 L 773.7 339.5 M 661.7 521.5 L 785.7 339.5 M 673.7 521.5 L 797.7 339.5 M 685.7 521.5 L 809.7 339.5 M 697.7 521.5 L 821.7 339.5 M 709.7 521.5 L 833.7 339.5 M 721.7 521.5 L 845.7 339.5 M 733.7 521.5 L 857.7 339.5 M 745.7 521.5 L 869.7 339.5 M 757.7 521.5 L 881.7 339.5 M 769.7 521.5 L 893.7 339.5 M 781.7 521.5 L 905.7 339.5 M 793.7 521.5 L 917.7 339.5 M 805.7 521.5 L 929.7 339.5 M 817.7 521.5 L 941.7 339.5 M 829.7 521.5 L 953.7 339.5 M 841.7 521.5 L 965.7 339.5 M 853.7 521.5 L 977.7 339.5 M 865.7 521.5 L 989.7 339.5 M 877.7 521.5 L 1001.7 339.5 M 889.7 521.5 L 1013.7 339.5 M 901.7 521.5 L 1025.7 339.5" stroke="#f7f7f7" stroke-width="3.8" clip-path="url(#ech1)"/>
<ellipse cx="739.2" cy="521.5" rx="66.5" ry="85.5" fill="none" stroke="#f7f7f7" stroke-width="4"/>
<line x1="672.7" y1="521.5" x2="805.7" y2="521.5" stroke="#f7f7f7" stroke-width="4"/>
<rect x="467.5" y="439.5" width="101" height="171" fill="#f4f4f4"/>
<rect x="385.2" y="439.7" width="266.6" height="170.6" rx="0" fill="none" stroke="#f7f7f7" stroke-width="4.4" stroke-linejoin="round"/>
<rect x="202.2" y="574.7" width="27.6" height="70.1" rx="0" fill="none" stroke="#f7f7f7" stroke-width="4.4" stroke-linejoin="round"/>
<path d="M 187.5 677 L 187.5 671 L 251 671 L 251 677 M 187.5 715 L 187.5 721 L 251 721 L 251 715" fill="none" stroke="#f7f7f7" stroke-width="3.6"/>
<path d="M 222.5 681 L 209 696 L 222.5 713 Z" fill="none" stroke="#f7f7f7" stroke-width="3.6" stroke-linejoin="round"/>
<rect x="282.2" y="709.7" width="26.6" height="65.6" rx="0" fill="none" stroke="#f7f7f7" stroke-width="4.4" stroke-linejoin="round"/>
<rect x="321.2" y="709.7" width="26.6" height="65.6" rx="0" fill="none" stroke="#f7f7f7" stroke-width="4.4" stroke-linejoin="round"/>
<rect x="283.2" y="807.2" width="27.1" height="68.1" rx="0" fill="none" stroke="#f7f7f7" stroke-width="4.4" stroke-linejoin="round"/>
<rect x="321.2" y="808.7" width="27.1" height="68.1" rx="0" fill="none" stroke="#f7f7f7" stroke-width="4.4" stroke-linejoin="round"/>
<path d="M 204 784 L 204 876 C 240 880 256 860 256 830 C 256 800 240 780 204 784 Z" fill="none" stroke="#f7f7f7" stroke-width="3.6"/>
<rect x="361.2" y="656.2" width="299.6" height="239.8" rx="0" fill="none" stroke="#f7f7f7" stroke-width="4.4" stroke-linejoin="round"/>
<rect x="445.5" y="742.5" width="121.5" height="66.5" rx="0" fill="none" stroke="#f7f7f7" stroke-width="4.4" stroke-linejoin="round"/>
<ellipse cx="457.5" cy="791" rx="7" ry="8" fill="#f7f7f7"/>
<rect x="391.8" y="709.8" width="18.4" height="51.9" rx="0" fill="none" stroke="#f7f7f7" stroke-width="3.6" stroke-linejoin="round"/>
<rect x="416.8" y="709.8" width="18.4" height="51.9" rx="0" fill="none" stroke="#f7f7f7" stroke-width="3.6" stroke-linejoin="round"/>
<rect x="576.7" y="713.7" width="18.1" height="51.6" rx="0" fill="none" stroke="#f7f7f7" stroke-width="4.4" stroke-linejoin="round"/>
<rect x="603.7" y="748.2" width="18.1" height="51.1" rx="0" fill="none" stroke="#f7f7f7" stroke-width="4.4" stroke-linejoin="round"/>
<rect x="630.7" y="748.2" width="17.6" height="51.1" rx="0" fill="none" stroke="#f7f7f7" stroke-width="4.4" stroke-linejoin="round"/>
<rect x="588.2" y="809.2" width="39.1" height="24.6" rx="0" fill="none" stroke="#f7f7f7" stroke-width="4.4" stroke-linejoin="round"/>
<rect x="587.2" y="844.2" width="41.1" height="25.1" rx="6" fill="none" stroke="#f7f7f7" stroke-width="4.4" stroke-linejoin="round"/>
<path d="M 703 674.5 L 699 674.5 L 691 684 L 691 740.5 L 739.5 740.5 L 739.5 684 L 731.5 675.5 L 727.5 675.5" fill="none" stroke="#f7f7f7" stroke-width="3.8" stroke-linejoin="round"/>
<rect x="771.7" y="656.7" width="51.6" height="36.6" rx="0" fill="none" stroke="#f7f7f7" stroke-width="4.4" stroke-linejoin="round"/>
<rect x="770.2" y="710.2" width="28.1" height="67.6" rx="0" fill="none" stroke="#f7f7f7" stroke-width="4.4" stroke-linejoin="round"/>
<rect x="810.7" y="710.2" width="20.6" height="72.1" rx="3" fill="none" stroke="#f7f7f7" stroke-width="4.4" stroke-linejoin="round"/>
<path d="M 685 797 L 813 797 L 813 882 L 801 882 L 801 870 L 698 870 L 698 882 L 685 882 Z" fill="none" stroke="#f7f7f7" stroke-width="3.4"/>
<rect x="716.2" y="803.2" width="37.6" height="23.6" rx="0" fill="none" stroke="#f7f7f7" stroke-width="4.4" stroke-linejoin="round"/>
<ellipse cx="702" cy="818" rx="6" ry="7" fill="none" stroke="#f7f7f7" stroke-width="2.5"/>
<text x="291.8" y="374.2" font-family="Liberation Sans" font-size="26.8" font-weight="normal" fill="#f7f7f7" stroke="#f7f7f7" stroke-width="1.5" stroke-linejoin="round" textLength="19.5" lengthAdjust="spacingAndGlyphs">Q1</text>
<text x="410.8" y="395.2" font-family="Liberation Sans" font-size="24.6" font-weight="normal" fill="#f7f7f7" stroke="#f7f7f7" stroke-width="1.5" stroke-linejoin="round" textLength="23.5" lengthAdjust="spacingAndGlyphs">C3</text>
<text x="624.8" y="369.2" font-family="Liberation Sans" font-size="25.4" font-weight="normal" fill="#f7f7f7" stroke="#f7f7f7" stroke-width="1.5" stroke-linejoin="round" textLength="23.5" lengthAdjust="spacingAndGlyphs">D3</text>
<text x="569.8" y="418.2" font-family="Liberation Sans" font-size="24.6" font-weight="normal" fill="#f7f7f7" stroke="#f7f7f7" stroke-width="1.5" stroke-linejoin="round" textLength="18.5" lengthAdjust="spacingAndGlyphs">L1</text>
<text x="315.8" y="548.2" font-family="Liberation Sans" font-size="25.4" font-weight="normal" fill="#f7f7f7" stroke="#f7f7f7" stroke-width="1.5" stroke-linejoin="round" textLength="36.0" lengthAdjust="spacingAndGlyphs">EC6</text>
<text x="755.8" y="549.2" font-family="Liberation Sans" font-size="25.4" font-weight="normal" fill="#f7f7f7" stroke="#f7f7f7" stroke-width="1.5" stroke-linejoin="round" textLength="34.5" lengthAdjust="spacingAndGlyphs">EC7</text>
<text x="237.8" y="644.2" font-family="Liberation Sans" font-size="26.8" font-weight="normal" fill="#f7f7f7" stroke="#f7f7f7" stroke-width="1.5" stroke-linejoin="round" textLength="24.0" lengthAdjust="spacingAndGlyphs">C2</text>
<text x="201.8" y="754.2" font-family="Liberation Sans" font-size="28.3" font-weight="normal" fill="#f7f7f7" stroke="#f7f7f7" stroke-width="1.5" stroke-linejoin="round" textLength="28.5" lengthAdjust="spacingAndGlyphs">D1</text>
<text x="286.8" y="701.8" font-family="Liberation Sans" font-size="21.7" font-weight="normal" fill="#f7f7f7" stroke="#f7f7f7" stroke-width="1.5" stroke-linejoin="round" textLength="20.0" lengthAdjust="spacingAndGlyphs">R1</text>
<text x="323.2" y="701.8" font-family="Liberation Sans" font-size="21.7" font-weight="normal" fill="#f7f7f7" stroke="#f7f7f7" stroke-width="1.5" stroke-linejoin="round" textLength="23.5" lengthAdjust="spacingAndGlyphs">R2</text>
<text x="283.8" y="898.8" font-family="Liberation Sans" font-size="25.4" font-weight="normal" fill="#f7f7f7" stroke="#f7f7f7" stroke-width="1.5" stroke-linejoin="round" textLength="24.5" lengthAdjust="spacingAndGlyphs">R3</text>
<text x="322.8" y="899.8" font-family="Liberation Sans" font-size="25.4" font-weight="normal" fill="#f7f7f7" stroke="#f7f7f7" stroke-width="1.5" stroke-linejoin="round" textLength="19.0" lengthAdjust="spacingAndGlyphs">C1</text>
<text x="175.8" y="835.2" font-family="Liberation Sans" font-size="22.5" font-weight="normal" fill="#f7f7f7" stroke="#f7f7f7" stroke-width="1.5" stroke-linejoin="round" textLength="22.5" lengthAdjust="spacingAndGlyphs">Q2</text>
<text x="494.8" y="785.2" font-family="Liberation Sans" font-size="22.5" font-weight="normal" fill="#f7f7f7" stroke="#f7f7f7" stroke-width="1.5" stroke-linejoin="round" textLength="18.5" lengthAdjust="spacingAndGlyphs">U1</text>
<text x="384.8" y="786.8" font-family="Liberation Sans" font-size="23.2" font-weight="normal" fill="#f7f7f7" stroke="#f7f7f7" stroke-width="1.5" stroke-linejoin="round" textLength="22.0" lengthAdjust="spacingAndGlyphs">R8</text>
<text x="414.8" y="786.8" font-family="Liberation Sans" font-size="23.2" font-weight="normal" fill="#f7f7f7" stroke="#f7f7f7" stroke-width="1.5" stroke-linejoin="round" textLength="22.0" lengthAdjust="spacingAndGlyphs">R9</text>
<text x="630.8" y="743.2" font-family="Liberation Sans" font-size="23.9" font-weight="normal" fill="#f7f7f7" stroke="#f7f7f7" stroke-width="1.5" stroke-linejoin="round" textLength="22.5" lengthAdjust="spacingAndGlyphs">R5</text>
<text x="634.8" y="834.2" font-family="Liberation Sans" font-size="26.8" font-weight="normal" fill="#f7f7f7" stroke="#f7f7f7" stroke-width="1.5" stroke-linejoin="round" textLength="22.5" lengthAdjust="spacingAndGlyphs">R6</text>
<text x="633.8" y="865.2" font-family="Liberation Sans" font-size="25.4" font-weight="normal" fill="#f7f7f7" stroke="#f7f7f7" stroke-width="1.5" stroke-linejoin="round" textLength="22.5" lengthAdjust="spacingAndGlyphs">C5</text>
<text x="698.8" y="659.2" font-family="Liberation Sans" font-size="22.5" font-weight="normal" fill="#f7f7f7" stroke="#f7f7f7" stroke-width="1.5" stroke-linejoin="round" textLength="31.5" lengthAdjust="spacingAndGlyphs">RW1</text>
<text x="830.8" y="683.2" font-family="Liberation Sans" font-size="25.4" font-weight="normal" fill="#f7f7f7" stroke="#f7f7f7" stroke-width="1.5" stroke-linejoin="round" textLength="22.5" lengthAdjust="spacingAndGlyphs">C4</text>
<text x="839.8" y="749.2" font-family="Liberation Sans" font-size="25.4" font-weight="normal" fill="#f7f7f7" stroke="#f7f7f7" stroke-width="1.5" stroke-linejoin="round" textLength="23.5" lengthAdjust="spacingAndGlyphs">D2</text>
<text x="759.8" y="823.2" font-family="Liberation Sans" font-size="23.9" font-weight="normal" fill="#f7f7f7" stroke="#f7f7f7" stroke-width="1.5" stroke-linejoin="round" textLength="22.5" lengthAdjust="spacingAndGlyphs">R7</text>
<path d="M 104.8 327.2 L 114 327.2 M 109.2 327.2 L 109.2 361.6 M 104.8 361.6 L 114 361.6 M 127.2 361.6 L 127.2 327.2 L 145.2 361.6 L 145.2 327.2" fill="none" stroke="#f7f7f7" stroke-width="4.6" stroke-linecap="round" stroke-linejoin="round"/>
<path d="M 858.8 312.9 L 865.9 312.9 L 871.3 318.3 L 871.3 344.3 L 865.9 349.7 L 858.8 349.7 L 853.4 344.3 L 853.4 318.3 Z M 880.4 312.9 L 880.4 343.7 L 886.4 349.7 L 891.4 349.7 L 897.4 343.7 L 897.4 312.9 M 905.5 313 L 925.5 313 M 916.1 313 L 916.1 350.5" fill="none" stroke="#f7f7f7" stroke-width="4.8" stroke-linecap="round" stroke-linejoin="round"/>
<text transform="translate(586.2,708.2) rotate(-90)" x="0" y="0" font-family="Liberation Sans" font-size="19.6" font-weight="normal" fill="#f7f7f7" stroke="#f7f7f7" stroke-width="1.5" stroke-linejoin="round" textLength="45.5" lengthAdjust="spacingAndGlyphs">R10</text>
<text transform="translate(618.2,742.2) rotate(-90)" x="0" y="0" font-family="Liberation Sans" font-size="19.6" font-weight="normal" fill="#f7f7f7" stroke="#f7f7f7" stroke-width="1.5" stroke-linejoin="round" textLength="45.5" lengthAdjust="spacingAndGlyphs">R4A</text>
<text transform="translate(765.2,771.2) rotate(-90)" x="0" y="0" font-family="Liberation Sans" font-size="21.0" font-weight="normal" fill="#f7f7f7" stroke="#f7f7f7" stroke-width="1.5" stroke-linejoin="round" textLength="46.5" lengthAdjust="spacingAndGlyphs">R4B</text>
<text x="822.2" y="813.8" font-family="Liberation Sans" font-size="31.2" font-weight="normal" fill="#f7f7f7" stroke="#f7f7f7" stroke-width="1.5" stroke-linejoin="round" textLength="100.5" lengthAdjust="spacingAndGlyphs">HW-263</text>
<text x="729.5" y="898" font-family="Liberation Sans" font-size="25" fill="#f7f7f7" stroke="#f7f7f7" stroke-width="1.2" textLength="45" lengthAdjust="spacingAndGlyphs">Radj</text>
<g filter="url(#blur2)" opacity="0.2">
<path d="M 88 50.5 L 936 50.5" stroke="#000" stroke-width="7"/>
<path d="M 129 954.5 L 895 954.5" stroke="#000" stroke-width="7"/>
<path d="M 49.5 118 L 49.5 918" stroke="#000" stroke-width="8"/>
<path d="M 967.5 169 L 967.5 866" stroke="#000" stroke-width="7"/>
</g>
<path d="M 85 38 L 85 115 M 938 38 L 938 115 M 85 44.5 L 437 44.5 M 576 44.5 L 938 44.5 M 106 35.5 L 87 44.5 L 106 53.5 M 917 35.5 L 936 44.5 L 917 53.5 M 38 115 L 85 115 M 38 920 L 85 920 M 43 115 L 43 434 M 43 614 L 43 920 M 36 143 L 43 116 L 51 143 M 36 892 L 43 919 L 51 892 M 938 166 L 978 166 M 938 868 L 978 868 M 974 166 L 974 434 M 974 614 L 974 868 M 967 193 L 974 167 L 982 193 M 967 841 L 974 867 L 982 841 M 126 919 L 126 966 M 897 919 L 897 966 M 126 960.5 L 437 960.5 M 576 960.5 L 897 960.5 M 146 951.5 L 127 960.5 L 146 970 M 877 951.5 L 896 960.5 L 877 970" fill="none" stroke="#c6a826" stroke-width="3.8" stroke-linejoin="round" stroke-linecap="round"/>
<path d="M 452.0 34.5 L 440.8 45.4 L 440.0 49.6 L 440.0 56.9 L 444.1 60.5 L 450.9 60.5 L 455.0 56.9 L 455.0 50.1 L 450.9 46.5 L 444.1 46.5 L 440.3 49.1" fill="none" stroke="#c6a826" stroke-width="2.5" stroke-linejoin="round" stroke-linecap="round"/>
<path d="M 471.1 34.5 L 461.0 52.7 L 475.0 52.7 M 471.1 34.5 L 471.1 60.5" fill="none" stroke="#c6a826" stroke-width="2.5" stroke-linejoin="round" stroke-linecap="round"/>
<rect x="480.5" y="55.0" width="5.5" height="5.5" fill="#c6a826"/>
<path d="M 501.8 34.5 L 508.2 34.5 L 512.0 38.1 L 512.0 56.9 L 508.2 60.5 L 501.8 60.5 L 498.0 56.9 L 498.0 38.1 L 501.8 34.5" fill="none" stroke="#c6a826" stroke-width="2.5" stroke-linejoin="round" stroke-linecap="round"/>
<path d="M 522.3 34.5 L 528.7 34.5 L 532.5 38.1 L 532.5 56.9 L 528.7 60.5 L 522.3 60.5 L 518.5 56.9 L 518.5 38.1 L 522.3 34.5" fill="none" stroke="#c6a826" stroke-width="2.5" stroke-linejoin="round" stroke-linecap="round"/>
<path d="M 538.0 60.5 L 538.0 41.8 M 538.0 44.9 L 540.2 41.8 L 543.8 41.8 L 546.0 44.9 L 546.0 60.5 M 546.0 44.9 L 548.2 41.8 L 551.8 41.8 L 554.0 44.9 L 554.0 60.5" fill="none" stroke="#c6a826" stroke-width="2.5" stroke-linejoin="round" stroke-linecap="round"/>
<path d="M 558.5 60.5 L 558.5 41.8 M 558.5 44.9 L 560.7 41.8 L 564.3 41.8 L 566.5 44.9 L 566.5 60.5 M 566.5 44.9 L 568.7 41.8 L 572.3 41.8 L 574.5 44.9 L 574.5 60.5" fill="none" stroke="#c6a826" stroke-width="2.5" stroke-linejoin="round" stroke-linecap="round"/>
<path d="M 455.0 949.5 L 440.8 949.5 L 440.8 960.6 L 451.1 960.6 L 455.0 964.3 L 455.0 972.3 L 451.1 976.0 L 444.4 976.0 L 440.5 972.3" fill="none" stroke="#c6a826" stroke-width="2.5" stroke-linejoin="round" stroke-linecap="round"/>
<path d="M 464.8 949.5 L 471.2 949.5 L 474.3 952.4 L 474.3 958.8 L 471.2 961.7 L 464.8 961.7 L 461.7 958.8 L 461.7 952.4 L 464.8 949.5 M 464.8 961.7 L 471.2 961.7 L 475.0 964.9 L 475.0 972.3 L 471.2 976.0 L 464.8 976.0 L 461.0 972.3 L 461.0 964.9 L 464.8 961.7" fill="none" stroke="#c6a826" stroke-width="2.5" stroke-linejoin="round" stroke-linecap="round"/>
<rect x="481.0" y="970.5" width="5.5" height="5.5" fill="#c6a826"/>
<path d="M 501.8 949.5 L 508.2 949.5 L 512.0 953.2 L 512.0 972.3 L 508.2 976.0 L 501.8 976.0 L 498.0 972.3 L 498.0 953.2 L 501.8 949.5" fill="none" stroke="#c6a826" stroke-width="2.5" stroke-linejoin="round" stroke-linecap="round"/>
<path d="M 521.8 949.5 L 528.2 949.5 L 532.0 953.2 L 532.0 972.3 L 528.2 976.0 L 521.8 976.0 L 518.0 972.3 L 518.0 953.2 L 521.8 949.5" fill="none" stroke="#c6a826" stroke-width="2.5" stroke-linejoin="round" stroke-linecap="round"/>
<path d="M 537.5 976.0 L 537.5 956.9 M 537.5 960.1 L 539.7 956.9 L 543.1 956.9 L 545.2 960.1 L 545.2 976.0 M 545.2 960.1 L 547.4 956.9 L 550.8 956.9 L 553.0 960.1 L 553.0 976.0" fill="none" stroke="#c6a826" stroke-width="2.5" stroke-linejoin="round" stroke-linecap="round"/>
<path d="M 557.5 976.0 L 557.5 956.9 M 557.5 960.1 L 559.7 956.9 L 563.3 956.9 L 565.5 960.1 L 565.5 976.0 M 565.5 960.1 L 567.7 956.9 L 571.3 956.9 L 573.5 960.1 L 573.5 976.0" fill="none" stroke="#c6a826" stroke-width="2.5" stroke-linejoin="round" stroke-linecap="round"/>
<path d="M 35.5 596.3 L 49.1 610.0 L 49.1 591.0 M 35.5 596.3 L 55.0 596.3" fill="none" stroke="#c6a826" stroke-width="2.5" stroke-linejoin="round" stroke-linecap="round"/>
<path d="M 35.5 584.0 L 35.5 561.0 L 55.0 581.2" fill="none" stroke="#c6a826" stroke-width="2.5" stroke-linejoin="round" stroke-linecap="round"/>
<rect x="49.5" y="553.0" width="5.5" height="5.0" fill="#c6a826"/>
<path d="M 35.5 531.2 L 35.5 522.3 L 38.2 517.0 L 52.3 517.0 L 55.0 522.3 L 55.0 531.2 L 52.3 536.5 L 38.2 536.5 L 35.5 531.2" fill="none" stroke="#c6a826" stroke-width="2.5" stroke-linejoin="round" stroke-linecap="round"/>
<path d="M 35.5 505.7 L 35.5 496.8 L 38.2 491.5 L 52.3 491.5 L 55.0 496.8 L 55.0 505.7 L 52.3 511.0 L 38.2 511.0 L 35.5 505.7" fill="none" stroke="#c6a826" stroke-width="2.5" stroke-linejoin="round" stroke-linecap="round"/>
<path d="M 55.0 484.0 L 41.0 484.0 M 43.3 484.0 L 41.0 481.3 L 41.0 477.0 L 43.3 474.2 L 55.0 474.2 M 43.3 474.2 L 41.0 471.5 L 41.0 467.2 L 43.3 464.5 L 55.0 464.5" fill="none" stroke="#c6a826" stroke-width="2.5" stroke-linejoin="round" stroke-linecap="round"/>
<path d="M 55.0 457.5 L 41.0 457.5 M 43.3 457.5 L 41.0 455.0 L 41.0 451.0 L 43.3 448.5 L 55.0 448.5 M 43.3 448.5 L 41.0 446.0 L 41.0 442.0 L 43.3 439.5 L 55.0 439.5" fill="none" stroke="#c6a826" stroke-width="2.5" stroke-linejoin="round" stroke-linecap="round"/>
<path d="M 965.5 597.6 L 979.5 612.0 L 979.5 592.0 M 965.5 597.6 L 985.5 597.6" fill="none" stroke="#c6a826" stroke-width="2.5" stroke-linejoin="round" stroke-linecap="round"/>
<path d="M 969.9 584.1 L 965.5 576.5 L 985.5 576.5 M 985.5 584.1 L 985.5 568.9" fill="none" stroke="#c6a826" stroke-width="2.5" stroke-linejoin="round" stroke-linecap="round"/>
<rect x="980.0" y="554.5" width="5.5" height="4.5" fill="#c6a826"/>
<path d="M 965.5 532.6 L 965.5 523.4 L 968.3 518.0 L 982.7 518.0 L 985.5 523.4 L 985.5 532.6 L 982.7 538.0 L 968.3 538.0 L 965.5 532.6" fill="none" stroke="#c6a826" stroke-width="2.5" stroke-linejoin="round" stroke-linecap="round"/>
<path d="M 965.5 506.6 L 965.5 497.4 L 968.3 492.0 L 982.7 492.0 L 985.5 497.4 L 985.5 506.6 L 982.7 512.0 L 968.3 512.0 L 965.5 506.6" fill="none" stroke="#c6a826" stroke-width="2.5" stroke-linejoin="round" stroke-linecap="round"/>
<path d="M 985.5 484.0 L 971.1 484.0 M 973.5 484.0 L 971.1 481.2 L 971.1 476.8 L 973.5 474.0 L 985.5 474.0 M 973.5 474.0 L 971.1 471.2 L 971.1 466.8 L 973.5 464.0 L 985.5 464.0" fill="none" stroke="#c6a826" stroke-width="2.5" stroke-linejoin="round" stroke-linecap="round"/>
<path d="M 985.5 460.0 L 971.1 460.0 M 973.5 460.0 L 971.1 457.2 L 971.1 452.8 L 973.5 450.0 L 985.5 450.0 M 973.5 450.0 L 971.1 447.2 L 971.1 442.8 L 973.5 440.0 L 985.5 440.0" fill="none" stroke="#c6a826" stroke-width="2.5" stroke-linejoin="round" stroke-linecap="round"/>
<path d="M 85 918 L 85 872" stroke="#00e000" stroke-width="4.5"/>
<path d="M 85 857 L 78 877 L 92 877 Z" fill="#00e000"/>
<path d="M 86 920 L 120 920" stroke="#f00000" stroke-width="4.5"/>
<path d="M 136 920 L 117 913 L 117 928 Z" fill="#f00000"/>
<circle cx="78" cy="926" r="7" fill="#0000f0"/>
<path d="M 77 805 L 84.5 822 L 77 839" fill="none" stroke="#30c030" stroke-width="1.2"/>
<path d="M 144 937 L 153 921 L 162 937" fill="none" stroke="#e03030" stroke-width="1.2"/>
<path d="M 48 947 L 65 947 L 48 980 L 65 980" fill="none" stroke="#2020e0" stroke-width="1.6"/>
</svg></body></html>
